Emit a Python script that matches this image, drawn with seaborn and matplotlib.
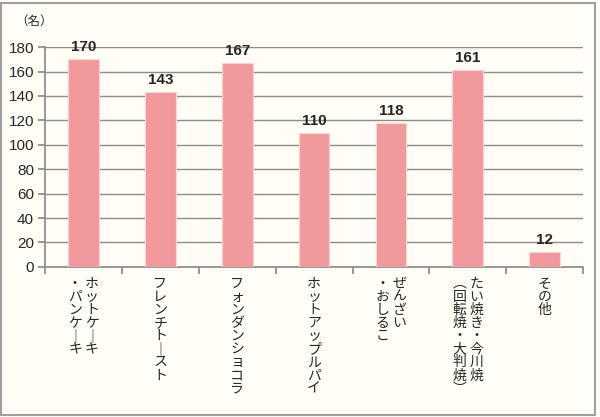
import matplotlib
matplotlib.use("Agg")
import matplotlib.pyplot as plt
import seaborn as sns
import pandas as pd
from matplotlib.patches import Rectangle

categories = ["ホットケーキ\n・パンケーキ", "フレンチトースト", "フォンダンショコラ", "ホットアップル パイ",
              "ぜんざい\n・おしるこ", "たい焼き・今川焼\n(回転焼・大判焼)", "その他"]
values = [170, 143, 167, 110, 118, 161, 12]
yticks = [0, 20, 40, 60, 80, 100, 120, 140, 160, 180]
unit_label = "（名）"

sns.set_theme(style="white")
plt.rcParams['font.family'] = ['Noto Sans CJK JP', 'DejaVu Sans']

BG = "#FFFDF6"
BAR = "#F09A9D"

fig = plt.figure(figsize=(6.0, 4.17), dpi=100, facecolor=BG)
ax = fig.add_axes([0.075, 0.36, 0.897, 0.527])
ax.set_facecolor(BG)

df = pd.DataFrame({"cat": categories, "val": values})
sns.barplot(data=df, x="cat", y="val", color=BAR, width=0.4, saturation=1,
            edgecolor="#FBD3D4", linewidth=0.8, ax=ax, zorder=3)

ax.set_ylim(0, 180)
ax.set_xlim(-0.5, len(categories) - 0.5)
ax.set_yticks(yticks)
ax.set_yticklabels([str(t) for t in yticks], fontsize=11, family=['Liberation Sans', 'DejaVu Sans'])
ax.grid(axis="y", color="#8C8C8C", linewidth=1.0, zorder=0)
ax.set_axisbelow(True)
for s in ["top", "right"]:
    ax.spines[s].set_visible(False)
ax.spines["left"].set_color("#8C8C8C")
ax.spines["bottom"].set_color("#8C8C8C")
ax.tick_params(axis="y", length=5, color="#8C8C8C", left=True, pad=3)
ax.set_xlabel("")
ax.set_ylabel("")

# category boundary ticks
ax.set_xticks([i - 0.5 for i in range(len(categories) + 1)])
ax.set_xticklabels([])
ax.tick_params(axis="x", length=5, color="#8C8C8C", bottom=True, direction="out")

# value labels
for i, v in enumerate(values):
    ax.text(i, v + 4, str(v), ha="center", va="bottom", fontsize=11, fontweight="bold",
            family=['Liberation Sans', 'DejaVu Sans'])

# vertical Japanese labels
vert_map = {"ー": "｜", "(": "︵", ")": "︶"}
def vert(s):
    out = []
    for c in s:
        if c == " ":
            continue
        out.append(vert_map.get(c, c))
    return "\n".join(out)

for i, lab in enumerate(categories):
    cols = lab.split("\n")
    n = len(cols)
    colw = 0.22
    for j, col in enumerate(cols):
        off = ((n - 1) / 2 - j) * colw
        ax.text(i + off, -8, vert(col), ha="center", va="top", fontsize=10,
                linespacing=0.92, transform=ax.transData, clip_on=False)

fig.text(0.025, 0.95, unit_label, fontsize=9, ha="left", va="center")

fig.patches.append(Rectangle((0.002, 0.004), 0.99, 0.99, transform=fig.transFigure,
                             fill=False, edgecolor="#A0A0A0", linewidth=1.5))

fig.savefig("out.png", dpi=100, facecolor=BG)
